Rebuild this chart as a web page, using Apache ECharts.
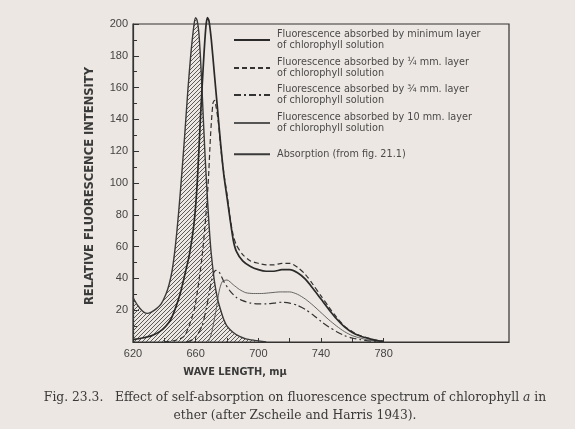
<!DOCTYPE html>
<html>
<head>
<meta charset="utf-8">
<script src="https://cdn.jsdelivr.net/npm/echarts@6/dist/echarts.min.js"></script>
<style>
html,body{margin:0;padding:0;background:#ece7e2;}
#c{width:575px;height:429px;}
</style>
</head>
<body>
<div id="c"></div>
<script>
// ---- data (wavelength in mμ, relative intensity) ----
const absWl  = [620,623,626,629,632,635,638,641,643,645,647,649,651,653,655,657,659,660,661,662,663,664,665,666,667,668,669,670,672,674,676,678,680,684,688,692,698,705];
const absVal = [28,23,19.5,18,19,21,24,30,36,45,60,80,104,130,158,182,200,204,202,195,180,160,138,117,99,82,67,55,38,27,20,14,10,6,3.5,2,1,0];

const minWl  = [620,626,632,637,641,644,647,650,653,656,659,661,663,665,666.5,667.5,668.5,670,672,674,676,678,680,682,684,686,690,695,700,705,710,715,720,725,730,735,740,745,750,755,760,765,770,775,780];
const minVal = [1.5,2.5,4,6.5,10,14,21,30,42,55,75,100,140,176,198,204,202,190,168,146,124,105,91,77,64,57,51,47.5,45.5,44.5,44.5,45.5,45.5,43.5,39.5,33.5,27,20.5,14.5,9.5,6,3.8,2.3,1,0.3];

const q14Wl  = [640,645,650,653,656,659,661,664,666,668,669.5,671,672,673,674.5,676,678,680,682,684,686,690,695,700,705,710,715,720,725,730,735,740,745,750,755,760,765,770,775,780];
const q14Val = [0.3,0.6,2,4,10.7,20,31,53,73.5,100,130,150,152,148,138,122,106,93,78,67,61,55,51,49.5,48.5,48.5,49.5,49.5,47,42.5,36,29,22,15.5,10,6.5,4,2.5,1.2,0.5];

const q34Wl  = [654,657,660,664,667,669,671,673,675,678,682,686,690,695,700,705,710,715,720,725,730,735,740,745,750,755,760,765,770,780];
const q34Val = [0,1,3,10,22,33,42,45,44,38,32,28,26,24.5,24,24,24.5,25,24.5,23,20.5,17,13,9.5,6.5,4,2.5,1.5,0.7,0];

const mm10Wl  = [668,670,673,675,677,680,684,688,692,697,702,708,714,720,725,730,735,740,745,750,755,760,765,770,775,780];
const mm10Val = [0,5,20,32,38,39,36,33,31,30.5,30.5,31,31.5,31.5,30,27,23,18.5,14,10,6.5,4,2.5,1.3,0.6,0];

const seriesNames = [
  'Fluorescence absorbed by minimum layer\nof chlorophyll solution',
  'Fluorescence absorbed by ¼ mm. layer\nof chlorophyll solution',
  'Fluorescence absorbed by ¾ mm. layer\nof chlorophyll solution',
  'Fluorescence absorbed by 10 mm. layer\nof chlorophyll solution',
  'Absorption (from fig. 21.1)'
];
const xLabelValues = [620,660,700,740,780];
const xTickValues  = [620,640,660,680,700,720,740,760,780];

// ---- helpers ----
const pairs = (w, v) => w.map((x, i) => [x, v[i]]);

const hatch = document.createElement('canvas');
hatch.width = 4; hatch.height = 4;
(function(){
  const g = hatch.getContext('2d');
  g.strokeStyle = '#4a4a4a'; g.lineWidth = 0.9;
  g.beginPath();
  g.moveTo(0,4); g.lineTo(4,0);
  g.moveTo(-1,1); g.lineTo(1,-1);
  g.moveTo(3,5); g.lineTo(5,3);
  g.stroke();
})();

const ink = '#333';
const legendText = { fontFamily: 'DejaVu Sans', fontSize: 9.7, color: '#4a4a4a', lineHeight: 10.5 };
const legendTops = [24.5, 52.5, 79.5, 107.5, 149];
const legends = seriesNames.map((n, i) => ({
  orient: 'vertical', left: 233, top: legendTops[i], padding: 0,
  itemWidth: 36, itemHeight: 8,
  itemStyle: { opacity: 0 },
  data: [n],
  textStyle: Object.assign({}, legendText, { padding: i < 4 ? [10,0,0,2] : [0,0,0,2] })
}));

const chart = echarts.init(document.getElementById('c'), null, {renderer:'canvas'});
chart.setOption({
  backgroundColor: '#ece7e2',
  animation: false,
  title: {
    text: 'Fig. 23.3.   Effect of self-absorption on fluorescence spectrum of chlorophyll {i|a} in\nether (after Zscheile and Harris 1943).',
    left: 290, top: 384, textAlign: 'center',
    textStyle: {
      fontFamily: 'DejaVu Serif', fontSize: 12.3, fontWeight: 'normal', color: '#3a3a3a', lineHeight: 18,
      rich: { i: { fontFamily: 'DejaVu Serif', fontStyle: 'italic', fontSize: 12.3, color: '#3a3a3a' } }
    }
  },
  legend: legends,
  grid: { left: 133, right: 66, top: 24, bottom: 87, show: true, borderColor: ink, borderWidth: 1.2, backgroundColor: 'transparent' },
  xAxis: {
    type: 'value', min: 620, max: 860, interval: 20,
    name: 'WAVE LENGTH, mμ', nameLocation: 'middle', nameGap: 25,
    nameTextStyle: { fontFamily: 'DejaVu Sans', fontSize: 9.8, fontWeight: 'bold', color: '#3a3a3a', padding: [0,172,0,0] },
    axisLine: { lineStyle: { color: ink, width: 1.2 } },
    axisTick: { inside: true, length: 4, lineStyle: { color: ink }, customValues: xTickValues },
    axisLabel: { customValues: xLabelValues, color: '#444', fontFamily: 'Liberation Sans', fontSize: 11, margin: 6 },
    splitLine: { show: false }
  },
  yAxis: {
    type: 'value', min: 0, max: 200, interval: 20,
    name: 'RELATIVE FLUORESCENCE INTENSITY', nameLocation: 'middle', nameGap: 37, nameRotate: 90,
    nameTextStyle: { fontFamily: 'DejaVu Sans', fontSize: 11.5, fontWeight: 'bold', color: '#3a3a3a', padding: [0,6,0,0] },
    axisLine: { lineStyle: { color: ink, width: 1.2 } },
    axisTick: { inside: true, length: 6, lineStyle: { color: ink } },
    minorTick: { show: true, splitNumber: 2, length: 4, lineStyle: { color: ink } },
    axisLabel: { formatter: v => v === 0 ? '' : String(v), color: '#444', fontFamily: 'Liberation Sans', fontSize: 11, margin: 5 },
    splitLine: { show: false }
  },
  series: [
    { name: seriesNames[0], type: 'line', data: pairs(minWl, minVal), symbol: 'none', smooth: 0.25, clip: false,
      lineStyle: { color: '#2a2a2a', width: 1.7 }, itemStyle: { color: '#2a2a2a' }, z: 5 },
    { name: seriesNames[1], type: 'line', data: pairs(q14Wl, q14Val), symbol: 'none', smooth: 0.25, clip: false,
      lineStyle: { color: '#333', width: 1.2, type: [5,3] }, itemStyle: { color: '#333' }, z: 4 },
    { name: seriesNames[2], type: 'line', data: pairs(q34Wl, q34Val), symbol: 'none', smooth: 0.25, clip: false,
      lineStyle: { color: '#333', width: 1.2, type: [7,3,2,3] }, itemStyle: { color: '#333' }, z: 4 },
    { name: seriesNames[3], type: 'line', data: pairs(mm10Wl, mm10Val), symbol: 'none', smooth: 0.25, clip: false,
      lineStyle: { color: '#555', width: 0.9 }, itemStyle: { color: '#555' }, z: 4 },
    { name: seriesNames[4], type: 'line', data: pairs(absWl, absVal), symbol: 'none', smooth: 0.25, clip: false,
      lineStyle: { color: '#3a3a3a', width: 1.4 }, itemStyle: { color: '#3a3a3a' },
      areaStyle: { color: { image: hatch, repeat: 'repeat' }, opacity: 1 }, z: 3 }
  ]
});
</script>
</body>
</html>
